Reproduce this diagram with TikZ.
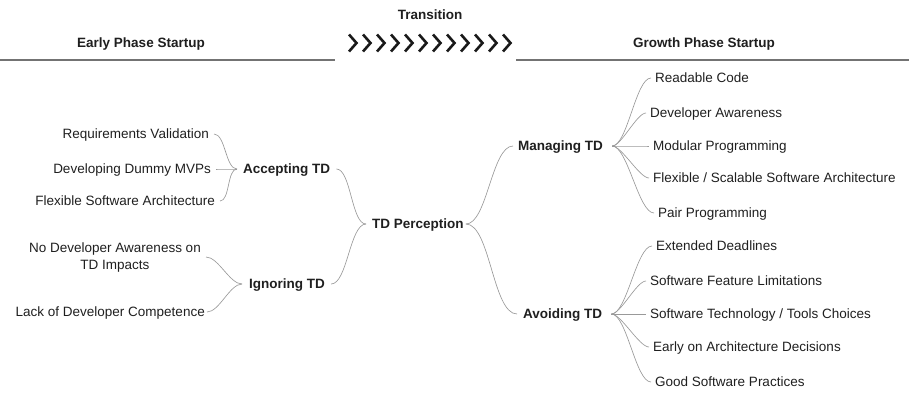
\documentclass[tikz,border=0pt]{standalone}
\usepackage{fontspec}
\setmainfont{Liberation Sans}
\begin{document}
\begin{tikzpicture}[x=1pt,y=-1pt,
  lbl/.style={inner sep=0pt, font=\fontsize{13.5}{17}\selectfont, text=black!88,
              text height=9.7pt, text depth=0pt},
  hub/.style={lbl, font=\fontsize{13.5}{17}\selectfont\bfseries},
  link/.style={draw=black!40, line width=0.65pt},
  rule/.style={draw=black!55, line width=1.5pt},
  chev/.style={draw=black!90, line width=2.6pt, line join=miter}
]
\useasboundingbox (0,0) rectangle (909,392);

% phase headers
\node[hub] (early) at (141,43) {Early Phase Startup};
\node[hub] (trans) at (430,15) {Transition};
\node[hub] (growth) at (704,43) {Growth Phase Startup};
\draw[rule] (0,60) -- (335,60);
\draw[rule] (516,60) -- (909,60);
\foreach \i in {0,...,11}
  \draw[chev] ({349+\i*14},34.5) -- ++(7.5,8.5) -- ++(-7.5,8.5);

% left branches
\node[lbl, anchor=east] (rv) at (209,134) {Requirements Validation};
\node[lbl, anchor=east] (dd) at (211,169) {Developing Dummy MVPs};
\node[lbl, anchor=east] (fs) at (215,201) {Flexible Software Architecture};
\node[inner sep=0pt, font=\fontsize{13.5}{17}\selectfont, text=black!88,
      align=center, anchor=north] (nd) at (115,243)
      {No Developer Awareness on\\TD Impacts};
\node[lbl, anchor=east] (lc) at (205,312) {Lack of Developer Competence};

\node[hub, anchor=west] (acc) at (243,169) {Accepting TD};
\node[hub, anchor=west] (ign) at (249,284) {Ignoring TD};
\node[hub, anchor=west] (tdp) at (372,224) {TD Perception};

% right branches
\node[hub, anchor=west] (man) at (518,146) {Managing TD};
\node[hub, anchor=west] (avo) at (523,314) {Avoiding TD};

\node[lbl, anchor=west] (m1) at (655,78) {Readable Code};
\node[lbl, anchor=west] (m2) at (650,113) {Developer Awareness};
\node[lbl, anchor=west] (m3) at (653,146) {Modular Programming};
\node[lbl, anchor=west] (m4) at (653,178) {Flexible / Scalable Software Architecture};
\node[lbl, anchor=west] (m5) at (658,213) {Pair Programming};

\node[lbl, anchor=west] (a1) at (656,246) {Extended Deadlines};
\node[lbl, anchor=west] (a2) at (650,281) {Software Feature Limitations};
\node[lbl, anchor=west] (a3) at (650,314) {Software Technology / Tools Choices};
\node[lbl, anchor=west] (a4) at (653,347) {Early on Architecture Decisions};
\node[lbl, anchor=west] (a5) at (655,382) {Good Software Practices};

% connectors, left side
\foreach \n in {rv,dd,fs}
  \draw[link] ([xshift=5pt]\n.east) to[out=0,in=180,looseness=0.7] ([xshift=-6pt]acc.west);
\draw[link] ([xshift=5pt,yshift=1pt]nd.east) to[out=0,in=180,looseness=0.7] ([xshift=-7pt]ign.west);
\draw[link] ([xshift=2pt]lc.east) to[out=0,in=180,looseness=0.7] ([xshift=-7pt]ign.west);
\draw[link] ([xshift=6pt]acc.east) to[out=0,in=180,looseness=0.6] ([xshift=-6pt]tdp.west);
\draw[link] ([xshift=6pt]ign.east) to[out=0,in=180,looseness=0.6] ([xshift=-6pt]tdp.west);

% connectors, centre to right hubs
\draw[link] ([xshift=2pt]tdp.east) to[out=0,in=180,looseness=0.6] ([xshift=-5pt]man.west);
\draw[link] ([xshift=2pt]tdp.east) to[out=0,in=180,looseness=0.6] ([xshift=-6pt]avo.west);

% connectors, right leaves
\foreach \n in {m1,m2,m3,m4,m5}
  \draw[link] ([xshift=9pt]man.east) to[out=0,in=180,looseness=0.5] ([xshift=-4pt]\n.west);
\foreach \n in {a1,a2,a3,a4,a5}
  \draw[link] ([xshift=9pt]avo.east) to[out=0,in=180,looseness=0.5] ([xshift=-4pt]\n.west);
\end{tikzpicture}
\end{document}
